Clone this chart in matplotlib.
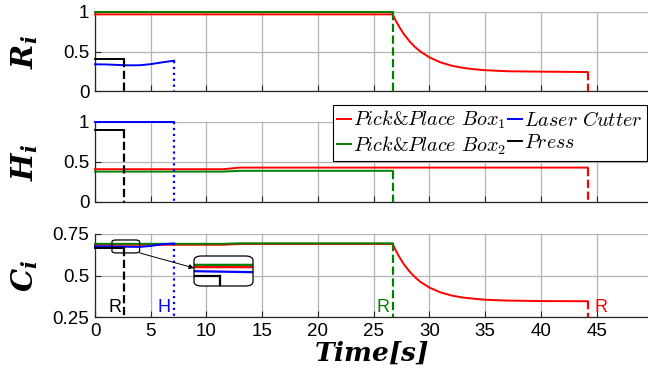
import matplotlib
matplotlib.use("Agg")
import matplotlib.pyplot as plt
from matplotlib.patches import FancyBboxPatch, ConnectionPatch

# ── Data ──────────────────────────────────────────────────────────────────────

# shared decay time stamps after the R event at t = 26.7 s
t_decay = [26.7, 27.0, 27.3, 27.7, 28.2, 28.7, 29.2, 30.0, 31.0, 32.0,
           33.0, 34.0, 35.0, 37.0, 40.0, 44.2]

# R_i panel
r_box1_t = [0] + t_decay
r_box1_v = [0.97, 0.97, 0.884, 0.809, 0.721, 0.631, 0.557, 0.498, 0.425,
            0.362, 0.320, 0.293, 0.275, 0.263, 0.250, 0.245, 0.240]
r_box2_t = [0, 26.7]
r_box2_v = [1.0, 1.0]
r_laser_t = [0, 1, 2, 3, 4, 5, 6, 7.1]
r_laser_v = [0.338, 0.336, 0.330, 0.325, 0.326, 0.340, 0.362, 0.384]
r_press_t = [0, 2.6]
r_press_v = [0.405, 0.405]

# H_i panel
h_box1_t = [0, 11.5, 13, 44.2]
h_box1_v = [0.41, 0.41, 0.43, 0.43]
h_box2_t = [0, 11.5, 13, 26.7]
h_box2_v = [0.38, 0.38, 0.39, 0.39]
h_laser_t = [0, 7.1]
h_laser_v = [1.0, 1.0]
h_press_t = [0, 2.6]
h_press_v = [0.90, 0.90]

# C_i panel
c_box1_t = [0, 11.5, 13] + t_decay
c_box1_v = [0.685, 0.685, 0.690, 0.690, 0.648, 0.611, 0.568, 0.525, 0.490,
            0.461, 0.427, 0.398, 0.379, 0.367, 0.360, 0.354, 0.349, 0.346,
            0.345]
c_box2_t = [0, 11.5, 13, 26.7]
c_box2_v = [0.691, 0.691, 0.694, 0.694]
c_laser_t = [0, 1, 2, 3, 4, 5, 6, 7.1]
c_laser_v = [0.676, 0.675, 0.674, 0.673, 0.672, 0.678, 0.688, 0.693]
c_press_t = [0, 2.6]
c_press_v = [0.663, 0.663]

# event markers in the C panel: (time, text, colour key)
events = [(1.8, "R", "press"), (6.2, "H", "laser"),
          (25.8, "R", "box2"), (45.4, "R", "box1")]

labels = {"box1": r"$Pick&Place\ Box_1$", "box2": r"$Pick&Place\ Box_2$",
          "laser": r"$Laser\ Cutter$", "press": r"$Press$"}
colors = {"box1": "#ff0000", "box2": "#008000", "laser": "#0000ff",
          "press": "#000000"}
drop_style = {"box1": "--", "box2": "--", "laser": ":", "press": "--"}

# ── Style ─────────────────────────────────────────────────────────────────────

plt.rcParams["font.family"] = "Liberation Sans"
plt.rcParams["mathtext.fontset"] = "custom"
plt.rcParams["mathtext.rm"] = "cmr10"
plt.rcParams["mathtext.it"] = "cmmi10"
plt.rcParams["mathtext.bf"] = "DejaVu Serif:italic:bold"

W, H = 648, 372
fig = plt.figure(figsize=(W / 100, H / 100), dpi=100)


def px_axes(x0, y0, x1, y1):
    return fig.add_axes([x0 / W, 1 - y1 / H, (x1 - x0) / W, (y1 - y0) / H])


ax_r = px_axes(95, 12, 648, 91)
ax_h = px_axes(95, 122, 648, 202)
ax_c = px_axes(95, 234, 648, 317)

panels = [
    (ax_r, {"box1": (r_box1_t, r_box1_v), "box2": (r_box2_t, r_box2_v),
            "laser": (r_laser_t, r_laser_v), "press": (r_press_t, r_press_v)},
     (0, 1), [0, 0.5, 1], ["0", "0.5", "1"], r"$\mathbf{R_i}$"),
    (ax_h, {"box1": (h_box1_t, h_box1_v), "box2": (h_box2_t, h_box2_v),
            "laser": (h_laser_t, h_laser_v), "press": (h_press_t, h_press_v)},
     (0, 1), [0, 0.5, 1], ["0", "0.5", "1"], r"$\mathbf{H_i}$"),
    (ax_c, {"box1": (c_box1_t, c_box1_v), "box2": (c_box2_t, c_box2_v),
            "laser": (c_laser_t, c_laser_v), "press": (c_press_t, c_press_v)},
     (0.25, 0.75), [0.25, 0.5, 0.75], ["0.25", "0.5", "0.75"],
     r"$\mathbf{C_i}$"),
]

for ax, series, ylim, yt, ytl, ylab in panels:
    for key in ["box1", "box2", "laser", "press"]:
        t, v = series[key]
        ax.plot(t, v, color=colors[key], lw=1.4, label=labels[key],
                clip_on=False, zorder=3)
        ax.plot([t[-1], t[-1]], [v[-1], ylim[0]], color=colors[key],
                lw=1.6, ls=drop_style[key], zorder=3)
    ax.set_xlim(0, 49.6)
    ax.set_ylim(*ylim)
    ax.set_xticks(range(0, 50, 5))
    ax.set_yticks(yt)
    ax.set_yticklabels(ytl)
    ax.grid(True, color="#b4b4b4", lw=0.9)
    ax.set_axisbelow(True)
    ax.tick_params(direction="in", length=4, labelsize=13.5, color="#262626",
                   pad=4)
    for s in ["top", "right"]:
        ax.spines[s].set_visible(False)
    for s in ["left", "bottom"]:
        ax.spines[s].set_color("#262626")
        ax.spines[s].set_linewidth(0.9)
    ax.set_ylabel(ylab, fontsize=21, labelpad=6)

for ax in (ax_r, ax_h):
    ax.tick_params(labelbottom=False)

for ax, _, _, _, _, _ in panels:
    ax.yaxis.set_label_coords(-0.1, 0.5)

ax_c.set_xlabel(r"$\mathbf{Time[s]}$", fontsize=19, labelpad=0)

for tx, txt, key in events:
    ax_c.text(tx, 0.258, txt, color=colors[key], fontsize=13,
              ha="center", va="bottom")

# zoom rectangle + inset
zx0, zx1, zy0, zy1 = 1.52, 4.0, 0.636, 0.714
ax_c.add_patch(FancyBboxPatch((zx0, zy0), zx1 - zx0, zy1 - zy0,
                              boxstyle="round,pad=0,rounding_size=0.4",
                              mutation_aspect=0.03,
                              fc="none", ec="black", lw=0.9, zorder=4))

ax_in = px_axes(194, 256, 253, 286)
for key, (t, v) in panels[2][1].items():
    ax_in.plot(t, v, color=colors[key], lw=1.6)
    ax_in.plot([t[-1], t[-1]], [v[-1], 0.25], color=colors[key], lw=1.6)
ax_in.set_xlim(zx0, zx1)
ax_in.set_ylim(zy0, zy1)
ax_in.set_xticks([])
ax_in.set_yticks([])
for s in ax_in.spines.values():
    s.set_visible(False)
fig.patches.append(FancyBboxPatch((194 / W, 1 - 286 / H), 59 / W, 30 / H,
                                  boxstyle="round,pad=0,rounding_size=0.012",
                                  transform=fig.transFigure, fc="none",
                                  ec="black", lw=0.9, zorder=10))

con = ConnectionPatch(xyA=(zx1, zy0), coordsA=ax_c.transData,
                      xyB=(194 / W, 1 - 268 / H), coordsB=fig.transFigure,
                      arrowstyle="-|>", mutation_scale=7, lw=0.7,
                      color="black", zorder=5)
fig.add_artist(con)

handles, labs = ax_r.get_legend_handles_labels()
leg = fig.legend(handles, labs, ncol=2, loc="upper right",
                 bbox_to_anchor=(647 / W, 1 - 105 / H), borderaxespad=0,
                 fontsize=14.5, handlelength=0.7, handletextpad=0.1,
                 columnspacing=0.1, labelspacing=0.15, borderpad=0.2,
                 fancybox=False, edgecolor="black", framealpha=1)
leg.get_frame().set_linewidth(0.8)

fig.savefig("out.png", dpi=100)
